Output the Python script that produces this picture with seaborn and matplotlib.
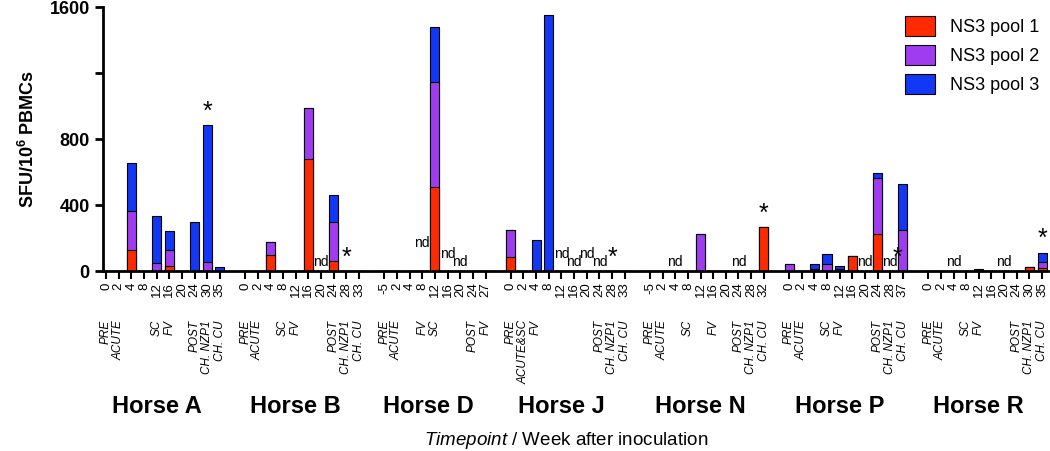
import matplotlib
matplotlib.use('Agg')
import matplotlib.pyplot as plt
import matplotlib.transforms as mtransforms
from matplotlib.patches import Patch
import pandas as pd
import seaborn as sns

HORSES = ['Horse A', 'Horse B', 'Horse D', 'Horse J', 'Horse N', 'Horse P', 'Horse R']

WEEKS = {
    'Horse A': [0, 2, 4, 8, 12, 16, 20, 24, 30, 35],
    'Horse B': [0, 2, 4, 8, 12, 16, 20, 24, 28, 33],
    'Horse D': [-5, 2, 4, 8, 12, 16, 20, 24, 27],
    'Horse J': [0, 2, 4, 8, 12, 16, 20, 24, 28, 33],
    'Horse N': [-5, 2, 4, 8, 12, 16, 20, 24, 28, 32],
    'Horse P': [0, 2, 4, 8, 12, 16, 20, 24, 28, 37],
    'Horse R': [0, 2, 4, 8, 12, 16, 20, 24, 30, 35],
}

# SFU per 10^6 PBMCs, one value per week
POOL1 = {
    'Horse A': [0, 0, 130, 0, 0, 30, 0, 0, 0, 0],
    'Horse B': [0, 0, 100, 0, 0, 680, 0, 60, 0, 0],
    'Horse D': [0, 0, 0, 0, 510, 0, 0, 0, 0],
    'Horse J': [85, 0, 0, 0, 0, 0, 0, 0, 0, 0],
    'Horse N': [0, 0, 0, 0, 0, 0, 0, 0, 0, 265],
    'Horse P': [0, 0, 0, 0, 0, 90, 0, 225, 0, 0],
    'Horse R': [0, 0, 0, 0, 0, 0, 0, 0, 25, 20],
}
POOL2 = {
    'Horse A': [0, 0, 235, 0, 50, 100, 0, 0, 55, 0],
    'Horse B': [0, 0, 75, 0, 0, 310, 0, 240, 0, 0],
    'Horse D': [0, 0, 0, 0, 635, 0, 0, 0, 0],
    'Horse J': [165, 0, 0, 0, 0, 0, 0, 0, 0, 0],
    'Horse N': [0, 0, 0, 0, 225, 0, 0, 0, 0, 0],
    'Horse P': [40, 0, 15, 40, 10, 0, 0, 340, 0, 250],
    'Horse R': [0, 0, 0, 0, 0, 0, 0, 0, 0, 35],
}
POOL3 = {
    'Horse A': [0, 0, 290, 0, 285, 110, 0, 300, 830, 25],
    'Horse B': [0, 0, 0, 0, 0, 0, 0, 160, 0, 0],
    'Horse D': [0, 0, 0, 0, 335, 0, 0, 0, 0],
    'Horse J': [0, 0, 190, 1550, 0, 0, 0, 0, 0, 0],
    'Horse N': [0, 0, 0, 0, 0, 0, 0, 0, 0, 0],
    'Horse P': [0, 0, 25, 65, 20, 0, 0, 30, 0, 275],
    'Horse R': [0, 0, 0, 0, 10, 0, 0, 0, 0, 55],
}

STAGES = {
    'Horse A': {0: 'PRE', 2: 'ACUTE', 12: 'SC', 16: 'FV', 24: 'POST', 30: 'CH. NZP1', 35: 'CH. CU'},
    'Horse B': {0: 'PRE', 2: 'ACUTE', 8: 'SC', 12: 'FV', 24: 'POST', 28: 'CH. NZP1', 33: 'CH. CU'},
    'Horse D': {-5: 'PRE', 2: 'ACUTE', 8: 'FV', 12: 'SC', 24: 'POST', 27: 'FV'},
    'Horse J': {0: 'PRE', 2: 'ACUTE&SC', 4: 'FV', 24: 'POST', 28: 'CH. NZP1', 33: 'CH. CU'},
    'Horse N': {-5: 'PRE', 2: 'ACUTE', 8: 'SC', 16: 'FV', 24: 'POST', 28: 'CH. NZP1', 32: 'CH. CU'},
    'Horse P': {0: 'PRE', 2: 'ACUTE', 8: 'SC', 12: 'FV', 24: 'POST', 28: 'CH. NZP1', 37: 'CH. CU'},
    'Horse R': {0: 'PRE', 2: 'ACUTE', 8: 'SC', 12: 'FV', 24: 'POST', 30: 'CH. NZP1', 35: 'CH. CU'},
}

# not determined: week -> height of the label above the axis
ND = {
    'Horse A': {}, 'Horse B': {20: 10}, 'Horse D': {8: 125, 16: 60, 20: 10},
    'Horse J': {12: 60, 16: 10, 20: 60, 24: 10}, 'Horse N': {4: 10, 24: 10},
    'Horse P': {20: 10, 28: 10}, 'Horse R': {4: 10, 20: 10},
}
STARS = {
    'Horse A': [30], 'Horse B': [28], 'Horse D': [], 'Horse J': [28],
    'Horse N': [32], 'Horse P': [28], 'Horse R': [35],
}

LEGEND = ['NS3 pool 1', 'NS3 pool 2', 'NS3 pool 3']
COLORS = ['#FF2A00', '#A03CF0', '#1238F5']

plt.rcParams['font.family'] = ['Liberation Sans', 'DejaVu Sans']
plt.rcParams['mathtext.fontset'] = 'custom'
plt.rcParams['mathtext.rm'] = 'Liberation Sans'
plt.rcParams['mathtext.it'] = 'Liberation Sans:italic'
plt.rcParams['mathtext.bf'] = 'Liberation Sans:bold'

rows = []
pos = 0
for horse in HORSES:
    for i, w in enumerate(WEEKS[horse]):
        r, p, b = POOL1[horse][i], POOL2[horse][i], POOL3[horse][i]
        rows.append(dict(horse=horse, week=w, pos=pos, p1=r, p12=r + p, p123=r + p + b,
                         stage=STAGES[horse].get(w, ''), nd=ND[horse].get(w),
                         star=w in STARS[horse]))
        pos += 1
    pos += 1  # empty slot between horses
df = pd.DataFrame(rows)

fig = plt.figure(figsize=(10.5, 4.51), dpi=100)
ax = fig.add_axes([103 / 1050, 0.399, 945 / 1050, 0.585])

# cumulative totals drawn back to front give the stacked look
for col, color in zip(['p123', 'p12', 'p1'], COLORS[::-1]):
    sns.barplot(data=df, x='pos', y=col, native_scale=True, color=color, width=0.72,
                edgecolor='black', linewidth=0.8, saturation=1, errorbar=None, ax=ax)

ax.set_ylim(0, 1600)
ax.set_xlim(df.pos.min() - 0.24, df.pos.max() + 0.47)
ax.set_yticks([0, 400, 800, 1200, 1600])
ax.set_yticklabels(['0', '400', '800', '', '1600'], fontsize=13, fontweight='bold')
ax.set_xticks(df.pos)
ax.set_xticklabels(df.week.astype(str), rotation=90, fontsize=9.5)
ax.tick_params(axis='x', length=6, width=1.5, pad=2)
ax.tick_params(axis='y', length=6, width=2)
sns.despine(ax=ax)
for s in ['left', 'bottom']:
    ax.spines[s].set_linewidth(2)
ax.set_xlabel('')
ax.set_ylabel(r'SFU/10$^{\mathbf{6}}$ PBMCs', fontsize=13, fontweight='bold', labelpad=8)

trans = mtransforms.blended_transform_factory(ax.transData, ax.transAxes)
for _, row in df.iterrows():
    if row.stage:
        ax.text(row.pos, -0.186, row.stage, rotation=90, ha='center', va='top',
                style='italic', fontsize=8.5, transform=trans)
    if pd.notna(row.nd):
        ax.text(row.pos, row.p123 + row.nd, 'nd', ha='center', va='bottom', fontsize=10)
    if row.star:
        dx = 0.55 if pd.notna(row.nd) else 0
        ax.text(row.pos + dx, row.p123 + 10, '*', ha='center', va='bottom', fontsize=18)

for horse in HORSES:
    sub = df[df.horse == horse]
    ax.text(sub.pos.mean() - 0.5, -0.515, horse, ha='center', va='center', fontsize=17,
            fontweight='bold', transform=trans)

fig.text(566 / 1050, 0.024, r'$\it{Timepoint}$ / Week after inoculation', ha='center',
         va='center', fontsize=13.5)

handles = [Patch(facecolor=c, edgecolor='black', lw=0.8) for c in COLORS]
ax.legend(handles, LEGEND, loc='upper right', frameon=False, fontsize=13,
          handlelength=1.7, handleheight=1.3, borderaxespad=0.1)

fig.savefig('out.png', dpi=100)
